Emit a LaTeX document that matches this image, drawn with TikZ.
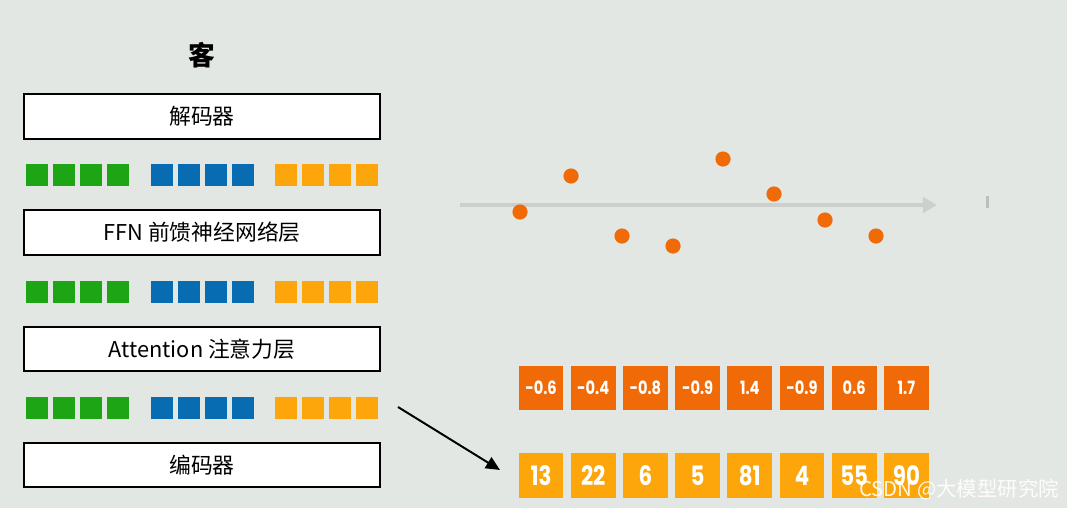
\documentclass[tikz,border=0pt]{standalone}
\usepackage{fontspec}
\setmainfont{Noto Sans CJK SC}
\newfontfamily\numfont[FakeStretch=0.8]{Poppins}
\usetikzlibrary{arrows.meta}

\definecolor{bgcol}{RGB}{227,231,227}
\definecolor{tokgreen}{RGB}{30,165,22}
\definecolor{tokblue}{RGB}{8,108,178}
\definecolor{tokorange}{RGB}{253,166,12}
\definecolor{valorange}{RGB}{240,106,8}
\definecolor{axisgray}{RGB}{204,207,204}

\begin{document}
\begin{tikzpicture}[x=0.025cm,y=-0.025cm,
        every path/.style={semithick},
        layerbox/.style={draw=black,line width=1.4pt,fill=white,minimum width=8.9cm,minimum height=1.12cm,inner sep=0pt,font=\fontsize{15.5}{17}\selectfont},
        tok/.style={minimum size=0.55cm,inner sep=0pt},
        valbox/.style={minimum size=1.12cm,inner sep=0pt,text=white,font=\numfont\bfseries\fontsize{13}{15}\selectfont},
        idbox/.style={valbox,fill=tokorange,font=\numfont\bfseries\fontsize{19}{21}\selectfont},
        dot/.style={circle,fill=valorange,minimum size=0.38cm,inner sep=0pt}
    ]
        \fill [bgcol] (0,0) rectangle (1067,508);
        \useasboundingbox (0,0) rectangle (1067,508);

        \node (guest) at (202,55) {\fontsize{19}{21}\selectfont\bfseries 客};

        \node [layerbox] (decoder) at (202,116.5) {解码器};
        \node [layerbox] (ffn) at (202,232.5) {FFN 前馈神经网络层};
        \node [layerbox] (attn) at (202,349) {Attention 注意力层};
        \node [layerbox] (encoder) at (202,465) {编码器};

        \foreach \r/\y in {1/175,2/292,3/408}
            \foreach \i in {0,...,3} {
                \node [tok,fill=tokgreen] (g\r\i) at (37+27*\i,\y) {};
                \node [tok,fill=tokblue] (b\r\i) at (162+27*\i,\y) {};
                \node [tok,fill=tokorange] (o\r\i) at (286+27*\i,\y) {};
            }

        \draw [axisgray,line width=2.8pt,-{Triangle[length=10pt,width=11pt]}] (460,205) -- (937,205);
        \fill [axisgray!80!gray] (986,196) rectangle (989,208);

        \foreach \x/\y [count=\n] in {520/212,571/176,622/236,673/246,723/159,774/194,825/220,876/236}
            \node [dot] (d\n) at (\x,\y) {};

        \foreach \v [count=\n from 0] in {-0.6,-0.4,-0.8,-0.9,1.4,-0.9,0.6,1.7}
            \node [valbox,fill=valorange] (v\n) at (541+52.2*\n,388) {\v};
        \foreach \v [count=\n from 0] in {13,22,6,5,81,4,55,90}
            \node [idbox] (t\n) at (541+52.2*\n,475.5) {\v};

        \coordinate (from) at (398,407);
        \coordinate (to) at (500,470);
        \draw [line width=1.4pt,-{Triangle[length=10pt,width=9pt]}] (from) -- (to);

        \node [anchor=east,text=white,opacity=0.9,font=\fontsize{14.5}{16}\selectfont] (mark) at (1064,490) {CSDN @大模型研究院};
    \end{tikzpicture}
\end{document}
